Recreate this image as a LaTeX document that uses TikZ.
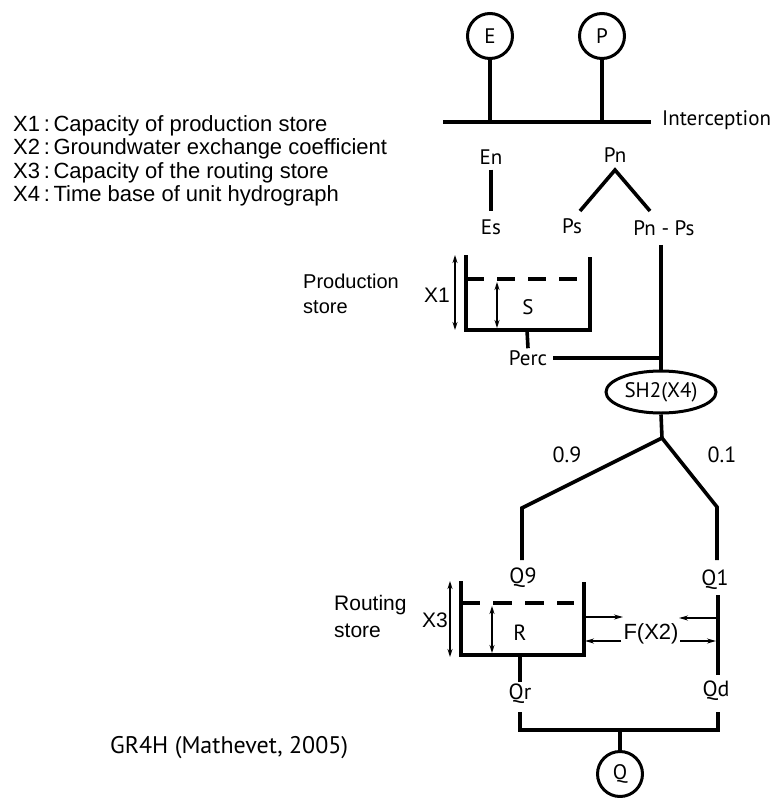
\documentclass[tikz,border=0pt]{standalone}
\usepackage{fontspec}
\setmainfont{Liberation Sans}
\newfontfamily\labelfont{PT Sans}
\usetikzlibrary{arrows.meta,shapes.geometric,calc}

\begin{document}
\begin{tikzpicture}[x=1pt,y=-1pt,
  heavy/.style={line width=3.6pt, line join=miter},
  dim/.style={line width=1.3pt, {Stealth[length=8pt,width=5pt]}-{Stealth[length=8pt,width=5pt]}},
  flow/.style={line width=1.3pt, -{Stealth[length=9pt,width=5pt]}},
  lbl/.style={font=\labelfont\fontsize{21}{22}\selectfont, inner sep=2pt},
  num/.style={font=\labelfont\fontsize{22}{23}\selectfont, inner sep=2pt},
  plain/.style={font=\fontsize{21}{22}\selectfont, inner sep=1pt},
  circ/.style={circle, draw, line width=3pt, minimum size=45pt, inner sep=0pt,
    font=\labelfont\fontsize{21}{22}\selectfont},
]
\useasboundingbox (0,0) rectangle (778,798);

% parameter legend
\node[plain, align=left, anchor=north west, font=\fontsize{22}{23.5}\selectfont] (legend) at (12,114)
  {X1\,:\,Capacity of production store\\
   X2\,:\,Groundwater exchange coefficient\\
   X3\,:\,Capacity of the routing store\\
   X4\,:\,Time base of unit hydrograph};

% inputs and interception
\node[circ] (E) at (490,36) {E};
\node[circ] (P) at (602,36) {P};
\coordinate (intL) at (443,122);
\coordinate (intR) at (651,122);
\draw[heavy] (intL) -- (intR);
\draw[heavy] (E.south) -- (E.south |- intL);
\draw[heavy] (P.south) -- (P.south |- intL);
\node[lbl, anchor=west] (interc) at (660,120) {Interception};

% net evaporation and net rainfall
\node[lbl] (En) at (491,157) {En};
\node[lbl] (Es) at (491,227) {Es};
\draw[heavy, shorten <=3pt, shorten >=6pt] (En) -- (Es);
\node[lbl] (Pn) at (615,155) {Pn};
\node[lbl] (Ps) at (572,226) {Ps};
\node[lbl] (PnPs) at (664,228) {Pn - Ps};
\coordinate (apex) at (615,170);
\coordinate (psTop) at (580,211);
\coordinate (pnpsTop) at (650,211);
\draw[heavy] (psTop) -- (apex) -- (pnpsTop);

% production store
\node[plain, align=left, anchor=west, font=\fontsize{20}{25}\selectfont] (prodname) at (302,294) {Production\\store};
\coordinate (pTL) at (466,255);
\coordinate (pBR) at (590,330);
\coordinate (pTR) at (590,257);
\draw[heavy] (pTL) |- (pBR) -- (pTR);
\draw[heavy, dash pattern=on 18pt off 13pt] (466,279) -- (581,279);
\draw[dim] (455,255) -- (455,330);
\draw[dim] (497,282) -- (497,328);
\node[plain] (X1) at (437,295) {X1};
\node[lbl] (S) at (528,307) {S};
\node[lbl] (Perc) at (528,358) {Perc};
\coordinate (percTop) at (527,330);
\draw[heavy] (percTop) -- (Perc.north);

% unit hydrograph
\node[lbl, draw, ellipse, line width=3pt, minimum width=110pt, minimum height=42pt, inner sep=0pt] (SH2) at (661,392) {SH2(X4)};
\draw[heavy, shorten <=7pt] (SH2.north |- PnPs.south) -- (SH2.north);
\draw[heavy, shorten <=4pt] (Perc.east) -- (SH2.north |- Perc.east);
\coordinate (split) at (662,438);
\coordinate (lk) at (522,508);
\coordinate (lend) at (522,560);
\coordinate (rk) at (717,507);
\coordinate (rend) at (717,560);
\draw[heavy] (SH2.south) -- (split);
\draw[heavy] (split) -- (lk) -- (lend);
\draw[heavy] (split) -- (rk) -- (rend);
\node[num] (w9) at (567,455) {0.9};
\node[num] (w1) at (722,455) {0.1};

% routing store
\node[plain, align=left, anchor=west, font=\fontsize{21}{27}\selectfont] (routname) at (333,616) {Routing\\store};
\coordinate (rTL) at (461,581);
\coordinate (rBR) at (584,655);
\coordinate (rTR) at (584,582);
\draw[heavy] (rTL) |- (rBR) -- (rTR);
\draw[heavy, dash pattern=on 19pt off 13pt] (461,603) -- (574,603);
\draw[dim] (450,581) -- (450,657);
\draw[dim] (492,606) -- (492,653);
\node[plain] (X3) at (435,620) {X3};
\node[num] (R) at (520,633) {R};
\node[num] (Q9) at (523,578) {Q9};
\node[num] (Q1) at (715,580) {Q1};
\coordinate (dTop) at (718,595);
\coordinate (dBot) at (718,675);
\draw[heavy] (dTop) -- (dBot);

% groundwater exchange
\node[plain, font=\fontsize{22}{24}\selectfont] (F) at (651,634) {F(X2)};
\draw[flow] (584,617) -- (623,617);
\draw[flow] (621,641) -- (585,641);
\draw[flow] (716,618) -- (679,618);
\draw[flow] (680,641) -- (716,641);

% outflow
\node[num] (Qr) at (520,694) {Qr};
\node[num] (Qd) at (716,691) {Qd};
\coordinate (qrTop) at (520,655);
\draw[heavy] (qrTop) -- (Qr.north);
\coordinate (qrLow) at (520,712);
\coordinate (botL) at (520,730);
\coordinate (botR) at (718,730);
\coordinate (qdLow) at (718,712);
\draw[heavy] (qrLow) -- (botL) -- (botR) -- (qdLow);
\node[circ] (Q) at (620,774) {Q};
\draw[heavy] (Q.north) -- (Q.north |- botL);

\node[lbl, anchor=west, font=\labelfont\fontsize{24}{25}\selectfont] (ref) at (108,748) {GR4H (Mathevet, 2005)};
\end{tikzpicture}
\end{document}
